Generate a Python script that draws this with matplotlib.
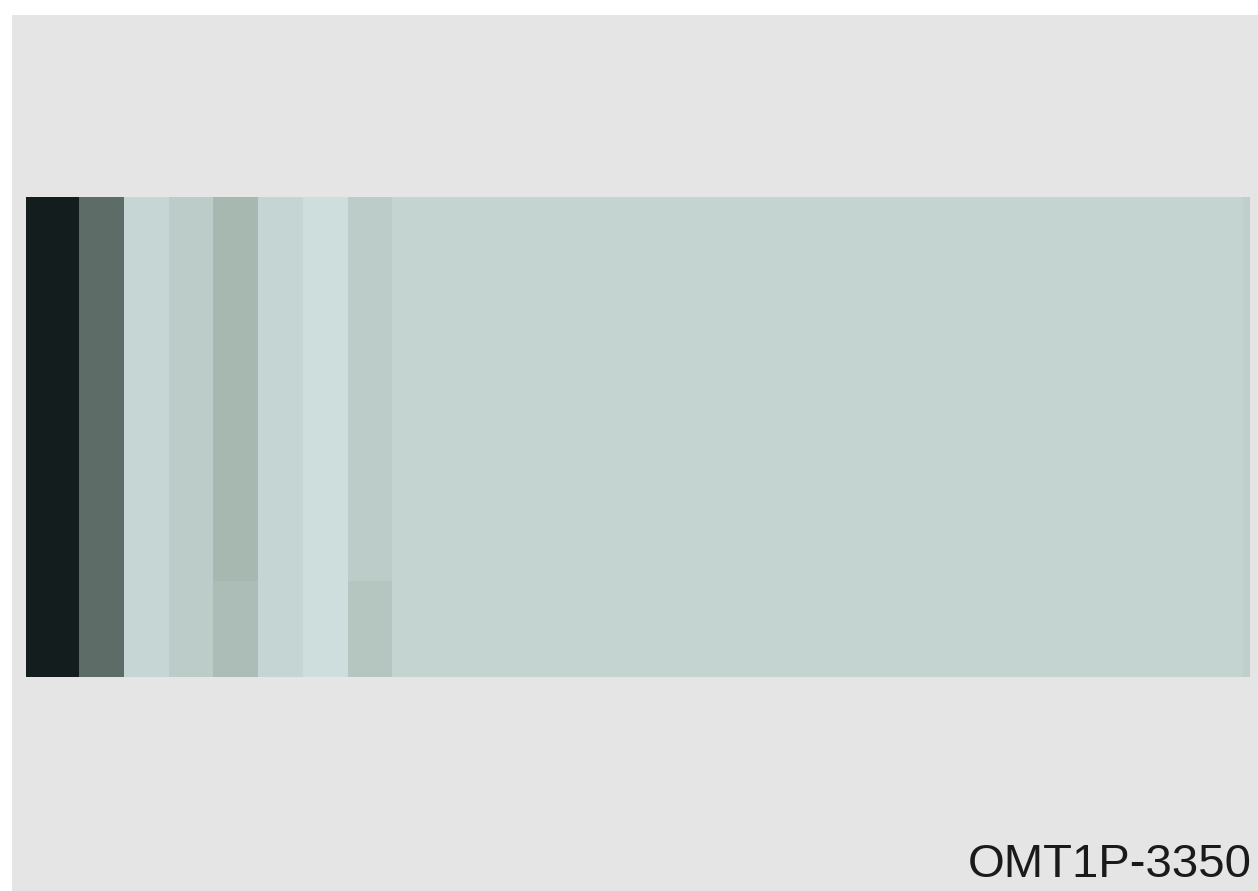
import numpy as np
import matplotlib
matplotlib.use('Agg')
import matplotlib.pyplot as plt
from matplotlib.colors import LinearSegmentedColormap

# Valores de intensidad por columna (fila superior, 4 filas iguales) y fila inferior
valores_arriba = [0.98, 0.98, 0.50, 0.045, 0.09, 0.195, 0.05, 0.005, 0.09,
                  0.057, 0.057, 0.057, 0.057, 0.057, 0.057, 0.057, 0.057, 0.057, 0.057,
                  0.057, 0.057, 0.057, 0.057, 0.057, 0.057, 0.057, 0.057, 0.057, 0.076]
valores_abajo = [0.98, 0.98, 0.50, 0.045, 0.09, 0.167, 0.05, 0.005, 0.124,
                 0.057, 0.057, 0.057, 0.057, 0.057, 0.057, 0.057, 0.057, 0.057, 0.057,
                 0.057, 0.057, 0.057, 0.057, 0.057, 0.057, 0.057, 0.057, 0.057, 0.076]
n_filas_arriba = 4
etiqueta = 'OMT1P-3350'

# Matriz: 4 filas iguales arriba y una fila distinta abajo
matriz = np.array([valores_arriba] * n_filas_arriba + [valores_abajo])

cmap = LinearSegmentedColormap.from_list(
    'verdes', [(0.0, '#cfdfde'), (0.2, '#a5b6af'), (0.5, '#5d6c66'), (1.0, '#101a1a')])

W, H = 1258, 891
fig = plt.figure(figsize=(W / 100, H / 100), dpi=100, facecolor='white')

# Fondo del panel (gris)
ax_bg = fig.add_axes([12 / W, 0, 1 - 12 / W, (H - 15) / H])
ax_bg.set_facecolor('#e5e5e5')
ax_bg.set_xticks([])
ax_bg.set_yticks([])
for s in ax_bg.spines.values():
    s.set_visible(False)

# Mapa de calor
ax = fig.add_axes([26 / W, (H - 677) / H, (1250 - 26) / W, 480 / H])
ax.set_facecolor('none')
ax.pcolormesh(matriz, cmap=cmap, vmin=0, vmax=1, shading='flat', edgecolors='none')
ax.set_xlim(0.816, 28.156)
ax.set_ylim(matriz.shape[0], 0)
ax.set_xticks([])
ax.set_yticks([])
for s in ax.spines.values():
    s.set_visible(False)

fig.text(1252 / W, (H - 877) / H, etiqueta, ha='right', va='baseline',
         fontsize=34, family='Liberation Sans', color='#1a1a1a')

fig.savefig('out.png', dpi=100, facecolor='white')
